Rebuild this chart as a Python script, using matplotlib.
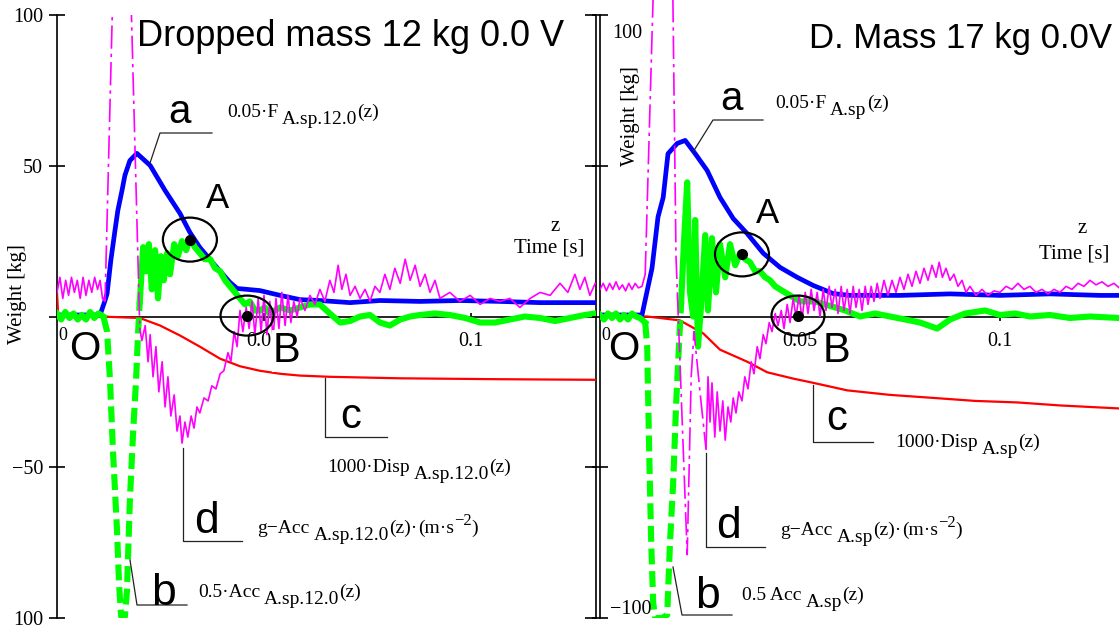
import numpy as np
import matplotlib
matplotlib.use("Agg")
import matplotlib.pyplot as plt
from matplotlib.patches import Ellipse

plt.rcParams['font.family'] = ['Liberation Serif', 'DejaVu Serif']

W, H = 1119, 635

#### data (time in s, values in kg) ####

# --- left panel: dropped mass 12 kg ---
t_F12 = [0, 0.0104, 0.0116, 0.0121, 0.0130, 0.0140, 0.0147, 0.0157, 0.0164, 0.0176,
         0.0193, 0.0225, 0.0261, 0.0297, 0.0321, 0.0345, 0.0382, 0.0418, 0.0435, 0.0490,
         0.0539, 0.0587, 0.0635, 0.0708, 0.0780, 0.0877, 0.0973, 0.1070, 0.1167, 0.1300]
F12 = [0.5, 0.5, 5.3, 7.6, 18.6, 28.5, 35.2, 41.8, 46.8, 51.7,
       54.1, 50.1, 41.8, 34.2, 27.9, 22.9, 16.9, 11.3, 9.3, 8.6,
       7.0, 5.6, 5.3, 4.6, 5.3, 5.0, 5.3, 5.0, 4.6, 4.6]

t_b12 = [0, .001, .002, .003, .004, .005, .006, .007, .008, .009, .010, .0112,
         .0121, .0128, .0135, .0145, .0150, .0155, .0164, .0169, .0176, .0184, .0191, .0196,
         .0200, .0208, .0215, .0222, .0229, .0237, .0244, .0251, .0258, .0266, .0273, .0283,
         .0292, .0302, .0312, .0321, .0333, .0345, .0357, .0370, .0382, .0394, .0406, .0418,
         .0430, .0442, .0454, .0466, .0478, .0490, .0502, .0514, .0539, .0563, .0587, .0611,
         .0635, .0659, .0684, .0708, .0732, .0756, .0780, .0804, .0829, .0853, .0877, .0913,
         .0949, .0986, .1022, .1058, .1094, .1130, .1167, .1203, .1239, .1275, .1300]
b12 = [1, -1, 1.5, -0.5, 1, -1, 0.5, -1, 1.5, -0.5, 1, 0,
       -5, -21, -44, -71, -89, -99.5, -99.5, -91, -61, -38, -21, -5,
       5, 23, 15, 24, 9, 22, 6, 20, 12, 21, 14, 24,
       20, 25, 22, 26, 23, 21, 19, 19, 16, 15, 12, 10,
       8, 6, 4, 5, 2, 2, 3, 1, 3, 2, 3, 4,
       4, 1, -2, -1.5, 0, 0.5, -2, -3, -1, 0, 0.5, 1,
       0.5, -0.5, -2, -2, -1, 0, -0.5, -1.5, -0.5, 0.5, 1]

t_d12 = [0, .0007, .0014, .0021, .0028, .0035, .0042, .0049, .0056, .0063, .0070, .0077,
         .0084, .0091, .0098, .0104, .0110, .0116, .0139, .0174, .0200,
         .0205, .0213, .0220, .0225, .0232, .0239, .0246, .0254, .0261, .0268,
         .0275, .0283, .0290, .0297, .0302, .0309, .0316, .0324, .0331, .0338,
         .0345, .0355, .0365, .0374, .0384, .0394, .0403, .0413, .0420, .0428,
         .0435, .0442, .0449, .0457, .0464, .0471, .0478, .0486, .0493, .0500,
         .0507, .0514, .0522, .0529, .0536, .0543, .0551, .0558, .0565, .0572,
         .0580, .0587, .0599, .0611, .0623, .0635, .0647, .0659, .0669, .0679,
         .0688, .0698, .0708, .0720, .0732, .0744, .0756, .0768, .0780, .0792,
         .0804, .0816, .0829, .0841, .0853, .0865, .0877, .0889, .0901, .0913,
         .0925, .0949, .0973, .0998, .1022, .1046, .1070, .1094, .1118, .1143,
         .1167, .1191, .1215, .1234, .1251, .1263, .1275, .1287, .1300]
d12 = [8, 13, 6, 12, 7, 13, 8, 12, 6, 13, 7, 12, 8, 13, 9, 12,
       6, 5, 130, 130, -4,
       -8, -3, -15, -6, -20, -10, -25, -15, -30, -20,
       -33, -26, -38, -33, -42, -35, -40, -33, -37, -30,
       -32, -27, -28, -23, -24, -19, -18, -12, -15, -5,
       -10, 2, -5, 3, -4, 5, -6, 6, -5, 7,
       -6, 5, -7, 6, -4, 8, -3, 7, -2, 5,
       0, 6, 2, 7, 4, 9, 5, 12, 8, 17,
       9, 14, 7, 10, 6, 9, 5, 10, 8, 14,
       9, 16, 11, 19, 12, 17, 10, 14, 8, 12,
       6, 8, 5, 7, 4, 6, 5, 6, 3, 6,
       8, 7, 11, 8, 14, 9, 13, 7, 11]

t_c12 = [0, 0.0003, 0.0104, 0.0200, 0.0249, 0.0297, 0.0345, 0.0394, 0.0442, 0.0490,
         0.0539, 0.0587, 0.0659, 0.0829, 0.1070, 0.1300]
c12 = [8, 0, 0, -0.5, -3, -6.3, -10, -14, -16.5, -18, -19, -19.6, -20, -20.5, -20.8, -21]

mark_t12 = [0.0321, 0.0459]   # points A, B
mark_v12 = [25.5, 0.3]

# --- right panel: mass 17 kg ---
t_F17 = [0, 0.0105, 0.0118, 0.0130, 0.0145, 0.0158, 0.0170, 0.0193, 0.0213, 0.0238,
         0.0268, 0.0300, 0.0333, 0.0368, 0.0408, 0.0450, 0.0493, 0.0533, 0.0583, 0.0625,
         0.0750, 0.0875, 0.1000, 0.1125, 0.1250, 0.1298]
F17 = [0.5, 0.5, 8.6, 16, 33, 39.5, 54, 57.4, 58.4, 54,
       48.4, 39.5, 32.5, 27.5, 21, 16.3, 13, 10.3, 7.6, 7,
       7, 7.5, 7, 7.5, 7, 7]

t_b17 = [0, .001, .002, .003, .004, .005, .006, .007, .008, .009, .010,
         .0113, .0118, .0123, .0128, .0133, .0138, .0155, .0168, .0175, .0183,
         .0190, .0198, .0203, .0210, .0218, .0225, .0233, .0238, .0245, .0253,
         .0263, .0270, .0280, .0290, .0300, .0313, .0325, .0338, .0350, .0363,
         .0375, .0388, .0400, .0413, .0425, .0438, .0450, .0475, .0500, .0538,
         .0575, .0613, .0650, .0688, .0725, .0763, .0800, .0843, .0875, .0913,
         .0963, .1000, .1038, .1075, .1125, .1175, .1225, .1298]
b17 = [0.5, -1, 1, -0.5, 1, -1, 0.5, -1, 1, 0, -0.5,
       -2, -10, -45, -75, -95, -100, -100, -99, -75, -55,
       -30, -8, 5, 25, 44.5, 8, 0, 32, -10, 4,
       27, 2, 26, 8, 24, 13, 24, 17, 21, 19,
       18, 15, 15, 13, 12, 10, 9, 7, 5, 5,
       3.5, 2, 0, 1, 0, -1, -2, -4, -1, 1,
       2, 0.5, 1, 0, 0.5, -0.5, 0, -0.5]

t_d17 = [0, .0008, .0016, .0024, .0032, .0040, .0048, .0056, .0064, .0072, .0080, .0088,
         .0096, .0105,
         .0113, .0138, .0180, .0190, .0218, .0228, .0235, .0250, .0265,
         .0270, .0275, .0280, .0287, .0293, .0300, .0307, .0313, .0320, .0327,
         .0333, .0340, .0347, .0355, .0362, .0370, .0378, .0385, .0393, .0400,
         .0408, .0415, .0423, .0430, .0438,
         .0445, .0453, .0460, .0468, .0475, .0483, .0490, .0498, .0505, .0513,
         .0520, .0528, .0535, .0543, .0550, .0558, .0565, .0573, .0580, .0588,
         .0595, .0603, .0610, .0618, .0625, .0633, .0640, .0648, .0655, .0663,
         .0670, .0678, .0685, .0693, .0700, .0710, .0720, .0730, .0740, .0750,
         .0760, .0770, .0780, .0790, .0800, .0810, .0820, .0830, .0840, .0848,
         .0856, .0865, .0875, .0885, .0895, .0905, .0915, .0925, .0940, .0955,
         .0970, .0985, .1000, .1015, .1030, .1045, .1060, .1075, .1090, .1105,
         .1120, .1135, .1150, .1165, .1180, .1195, .1210, .1225, .1240, .1255,
         .1270, .1285, .1298]
d17 = [9, 11, 8.5, 11, 9, 11.5, 9, 10.5, 8.5, 11, 9, 11, 9.5, 10,
       14, 130, 130, 20, -79, -20, -5, -25, -44,
       -20, -35, -22, -40, -25, -38, -28, -41, -30, -35,
       -27, -32, -25, -28, -20, -24, -15, -19, -10, -14,
       -6, -9, -2, -5, 1,
       -3, 2, -4, 4, -2, 6, 0, 7, -1, 8,
       1, 9, 2, 8, 0, 9, 2, 10, 3, 9,
       1, 10, 2, 9, 1, 10, 3, 9, 2, 10,
       4, 10, 5, 11, 6, 12, 7, 12, 8, 13,
       9, 14, 10, 15, 11, 16, 12, 17, 13, 18,
       13, 16, 12, 14, 10, 12, 8, 10, 7, 9,
       7, 8.5, 8, 10, 9, 11, 9, 10, 8, 9,
       7.5, 9, 8, 10, 9, 11, 10, 12, 10.5, 11.5,
       10, 11, 9.5]

t_c17 = [0, 0.0118, 0.0200, 0.0258, 0.0300, 0.0368, 0.0418, 0.0483, 0.0533, 0.0618,
         0.0725, 0.0833, 0.0938, 0.1043, 0.1150, 0.1298]
c17 = [0, 0, -1.3, -5.6, -11, -15, -18.5, -20.6, -22, -24.5, -26, -27, -28, -28.5, -29.5, -30.5]

mark_t17 = [0.0355, 0.0495]
mark_v17 = [20.6, 0.3]

BLUE, GREEN, MAGENTA, RED = '#0000ff', '#00ff00', '#ff00ff', '#ff0000'


def trace(ax, t, v, color, lw, spike, spike_ls, zorder, spike_clip=True):
    # steep impact part gets its own (broken) line style, like the Mathcad trace
    t = np.asarray(t)
    v = np.asarray(v)
    inside = (t >= spike[0]) & (t <= spike[1])
    i0 = int(np.argmax(inside))
    i1 = len(t) - int(np.argmax(inside[::-1]))
    ax.plot(t[:i0 + 1], v[:i0 + 1], color=color, lw=lw, zorder=zorder)
    ax.plot(t[i0:i1], v[i0:i1], color=color, lw=lw, ls=spike_ls, zorder=zorder,
            clip_on=spike_clip)
    ax.plot(t[i1 - 1:], v[i1 - 1:], color=color, lw=lw, zorder=zorder)


fig = plt.figure(figsize=(W / 100, H / 100), dpi=100)
axL = fig.add_axes([57 / W, 17 / H, 539 / W, 603 / H])
axR = fig.add_axes([600 / W, 17 / H, 519 / W, 603 / H])

panels = [
    (axL, 539 / 4140, t_F12, F12, t_b12, b12, t_d12, d12, t_c12, c12, mark_t12, mark_v12,
     (0.0112, 0.0200), (0.0110, 0.0200), True),
    (axR, 519 / 4000, t_F17, F17, t_b17, b17, t_d17, d17, t_c17, c17, mark_t17, mark_v17,
     (0.0113, 0.0203), (0.0113, 0.0265), False),
]

for (ax, tmax, tF, F, tb, b, td, d, tc, c, mt, mv, gsp, msp, mclip) in panels:
    ax.set_xlim(0, tmax)
    ax.set_ylim(-100, 100)
    ax.plot(tc, c, color=RED, lw=1.6, zorder=3)
    ax.plot(tF, F, color=BLUE, lw=3.4, zorder=4)
    trace(ax, tb, b, GREEN, 4.4, gsp, (0, (2.6, 1.1)), 5)
    trace(ax, td, d, MAGENTA, 1.2, msp, (0, (14, 3, 2, 3)), 6, spike_clip=mclip)
    ax.plot(mt, mv, 'o', color='black', ms=7, zorder=8)
    sx = ax.bbox.width / tmax
    sy = ax.bbox.height / 200
    for (x0, y0), (w, h) in zip(zip(mt, mv), [(54, 44), (53, 40)]):
        ax.add_patch(Ellipse((x0, y0), w / sx, h / sy, fill=False, lw=1.6,
                             edgecolor='black', zorder=9))
    ax.spines['top'].set_visible(False)
    ax.spines['right'].set_visible(False)
    ax.spines['bottom'].set_position(('data', 0))
    for s in ('left', 'bottom'):
        ax.spines[s].set_linewidth(1.2)
    ax.set_yticks([-100, -50, 0, 50, 100])
    ax.set_xticks([0.05, 0.1])
    ax.set_xticklabels(['0.05', '0.1'])
    ax.tick_params(axis='y', direction='inout', length=12, width=1.2, labelsize=14.5, pad=4)
    ax.tick_params(axis='x', direction='inout', length=6, width=1.2, labelsize=14.5, pad=8)

axL.set_yticklabels(['100', '\u221250', '', '50', '100'])
axR.set_yticklabels(['', '', '', '', ''])

# right-hand frame of the left plot with inward ticks
sec = axL.secondary_yaxis('right')
sec.set_ticks([-100, -50, 0, 50, 100])
sec.tick_params(direction='in', length=8, width=1.2, labelright=False)
sec.spines['right'].set_linewidth(1.2)

#### annotation layer in pixel coordinates ####
ov = fig.add_axes([0, 0, 1, 1], zorder=10)
ov.set_xlim(0, W)
ov.set_ylim(H, 0)
ov.axis('off')

SANS = 'Liberation Sans'

ov.text(137, 46, 'Dropped mass 12 kg 0.0 V', fontsize=26, family=SANS, va='baseline')
ov.text(1112, 48, 'D. Mass 17 kg 0.0V', fontsize=25, family=SANS, va='baseline', ha='right')

# point / curve letters
for s, x, y, fs in [('a', 180, 123, 29), ('A', 217, 208, 25), ('O', 85, 360, 29),
                    ('c', 351, 428, 30), ('d', 206, 533, 32), ('b', 164, 605, 32),
                    ('a', 731, 110, 29), ('A', 768, 223, 25), ('O', 624, 360, 29),
                    ('B', 836, 362, 30), ('c', 837, 430, 30), ('d', 729, 538, 32),
                    ('b', 707, 608, 32)]:
    ov.text(x, y, s, fontsize=fs, family=SANS, ha='center', va='baseline')
# the left B sits on top of the 0.05 tick label, hiding its last digit
ov.text(287, 362, 'B', fontsize=30, family=SANS, ha='center', va='baseline',
        bbox=dict(facecolor='white', edgecolor='none', pad=0.5))

# leader lines
for pts in [[(150, 163), (160, 133), (212, 133)],
            [(325, 378), (325, 437), (387, 437)],
            [(183, 448), (183, 541), (242, 541)],
            [(130, 560), (137, 605), (187, 605)],
            [(693, 152), (713, 120), (763, 120)],
            [(813, 385), (813, 442), (873, 442)],
            [(706, 453), (706, 547), (765, 547)],
            [(673, 567), (682, 615), (732, 615)]]:
    xs, ys = zip(*pts)
    ov.plot(xs, ys, color='#222222', lw=0.9)


def formula(x, y, parts, size=14):
    t = ov.text(x, y, parts[0][0], fontsize=size, va='baseline', ha='left')
    for p in parts[1:]:
        s, dx, dy = p[:3]
        fs = p[3] if len(p) > 3 else size
        t = ov.annotate(s, xy=(1, 0), xycoords=t, xytext=(dx, dy),
                        textcoords='offset pixels', fontsize=fs, va='bottom', ha='left')
    return t


formula(227, 117, [('0.05\u00b7F',), ('A.sp.12.0', 4, -7), ('(z)', 0, 7)])
formula(327, 472, [('1000\u00b7Disp',), ('A.sp.12.0', 4, -7), ('(z)', 0, 7)])
formula(257, 533, [('g\u2212Acc',), ('A.sp.12.0', 4, -7), ('(z)\u00b7', 0, 7),
                   ('(m\u00b7s', 1, 0), ('\u22122', 0, 8, 12), (')', 0, -8)])
formula(198, 597, [('0.5\u00b7Acc',), ('A.sp.12.0', 4, -7), ('(z)', 0, 7)])

formula(775, 108, [('0.05\u00b7F',), ('A.sp', 4, -7), ('(z)', 0, 7)])
formula(895, 447, [('1000\u00b7Disp',), ('A.sp', 4, -7), ('(z)', 0, 7)])
formula(780, 535, [('g\u2212Acc',), ('A.sp', 4, -7), ('(z)\u00b7', 0, 7),
                   ('(m\u00b7s', 1, 0), ('\u22122', 0, 8, 12), (')', 0, -8)])
formula(742, 600, [('0.5 Acc',), ('A.sp', 4, -7), ('(z)', 0, 7)])

# axis titles and loose tick labels
ov.text(18, 294, 'Weight [kg]', rotation=90, ha='center', va='center', fontsize=15)
ov.text(630, 116, 'Weight [kg]', rotation=90, ha='center', va='center', fontsize=15)
ov.text(555, 231, 'z', ha='center', va='baseline', fontsize=15)
ov.text(549, 252, 'Time [s]', ha='center', va='baseline', fontsize=15)
ov.text(1082, 233, 'z', ha='center', va='baseline', fontsize=15)
ov.text(1074, 258, 'Time [s]', ha='center', va='baseline', fontsize=15)
ov.text(63, 336, '0', ha='center', va='center', fontsize=13)
ov.text(606, 336, '0', ha='center', va='center', fontsize=13)
ov.text(627, 33, '100', ha='center', va='center', fontsize=14.5)
ov.text(631, 609, '\u2212100', ha='center', va='center', fontsize=14.5)

fig.savefig('out.png', dpi=100, facecolor='white')
